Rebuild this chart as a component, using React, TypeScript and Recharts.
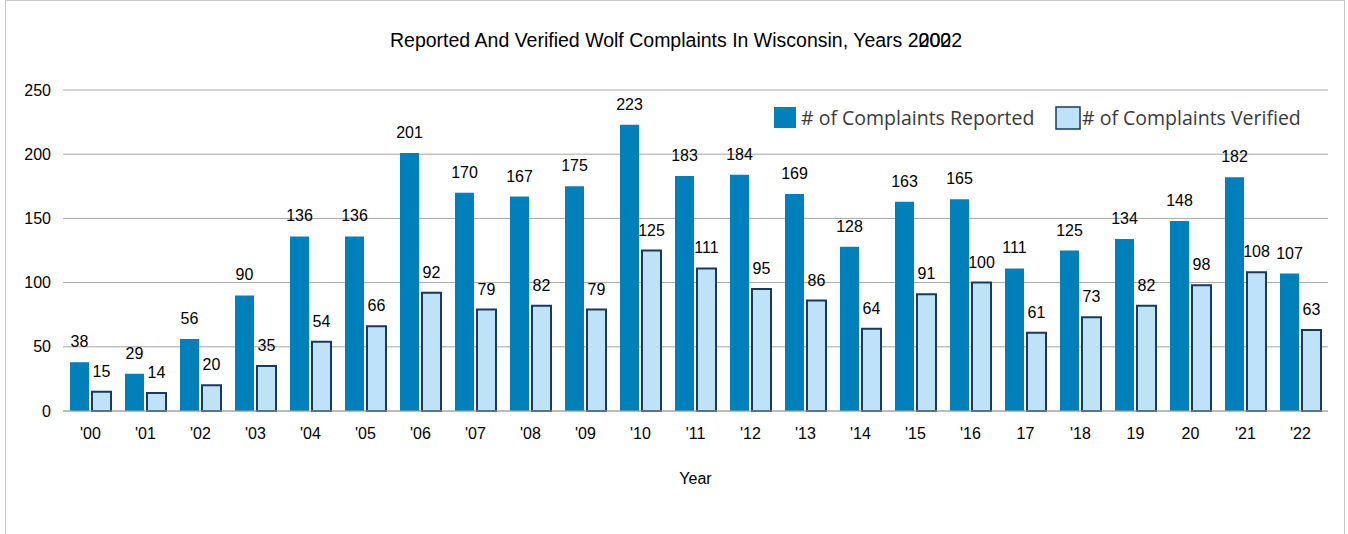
import React from 'react';
import { BarChart, Bar, XAxis, YAxis, CartesianGrid, LabelList, Customized } from 'recharts';

const years = ["'00", "'01", "'02", "'03", "'04", "'05", "'06", "'07", "'08", "'09", "'10", "'11", "'12", "'13", "'14", "'15", "'16", "17", "'18", "19", "20", "'21", "'22"];
const reported = [38, 29, 56, 90, 136, 136, 201, 170, 167, 175, 223, 183, 184, 169, 128, 163, 165, 111, 125, 134, 148, 182, 107];
const verified = [15, 14, 20, 35, 54, 66, 92, 79, 82, 79, 125, 111, 95, 86, 64, 91, 100, 61, 73, 82, 98, 108, 63];
const yTicks = [0, 50, 100, 150, 200, 250];

const data = years.map((y, i) => ({ year: y, reported: reported[i], verified: verified[i] }));

const FONT = '"Liberation Sans", Arial, sans-serif';
const REP = '#0080BA';
const VER = '#BEE3F8';
const VER_STROKE = '#173A5E';

const TITLE_SIZE = 19.5;

const Title = () => (
  <text x={390} y={47} fontFamily={FONT} fontSize={TITLE_SIZE} fill="#000">
    <tspan>Reported And Verified Wolf Complaints In Wisconsin, Years 2000</tspan>
    <tspan dx={-3 * 0.556 * TITLE_SIZE}>2022</tspan>
  </text>
);

const LegendBox = () => (
  <g fontFamily='"Open Sans", sans-serif' fontSize={19.5} fill="#3a3a3a">
    <rect x={774} y={107} width={22} height={21} fill={REP} />
    <text x={801} y={125}># of Complaints Reported</text>
    <rect x={1056} y={107} width={24} height={22} fill={VER} stroke={VER_STROKE} strokeWidth={1.5} />
    <text x={1082} y={125}># of Complaints Verified</text>
  </g>
);

export default function App() {
  return (
    <div style={{ position: 'fixed', left: 0, top: 0, width: 1348, height: 534, background: '#fff' }}>
      <div style={{ position: 'absolute', left: 5, top: 0, width: 1340, height: 534, borderLeft: '1px solid #c8c8c8', borderRight: '1px solid #c8c8c8', borderTop: '1px solid #c8c8c8', boxSizing: 'border-box' }} />
      <div style={{ position: 'absolute', left: 0, top: 0 }}>
        <BarChart
          width={1348}
          height={534}
          data={data}
          margin={{ top: 90, right: 20, left: 0, bottom: 43 }}
          barSize={19}
          barGap={3}
        >
          <CartesianGrid vertical={false} stroke="#a6a6a6" strokeWidth={1} />
          <XAxis
            dataKey="year"
            height={80}
            tickLine={false}
            axisLine={{ stroke: '#a6a6a6' }}
            tick={{ fontFamily: FONT, fontSize: 16, fill: '#000' }}
            tickMargin={11}
            interval={0}
            label={{ value: 'Year', position: 'insideTop', offset: 62, fontFamily: FONT, fontSize: 16, fill: '#000' }}
          />
          <YAxis
            width={63}
            domain={[0, 250]}
            ticks={yTicks}
            tickLine={false}
            axisLine={false}
            tickMargin={6}
            tick={{ fontFamily: FONT, fontSize: 16, fill: '#000' }}
          />
          <Bar dataKey="reported" fill={REP} isAnimationActive={false}>
            <LabelList dataKey="reported" position="top" offset={15} style={{ fontFamily: FONT, fontSize: 16, fill: '#000' }} />
          </Bar>
          <Bar dataKey="verified" fill={VER} stroke={VER_STROKE} strokeWidth={2} isAnimationActive={false}>
            <LabelList dataKey="verified" position="top" offset={15} style={{ fontFamily: FONT, fontSize: 16, fill: '#000' }} />
          </Bar>
          <Customized component={Title} />
          <Customized component={LegendBox} />
        </BarChart>
      </div>
    </div>
  );
}
